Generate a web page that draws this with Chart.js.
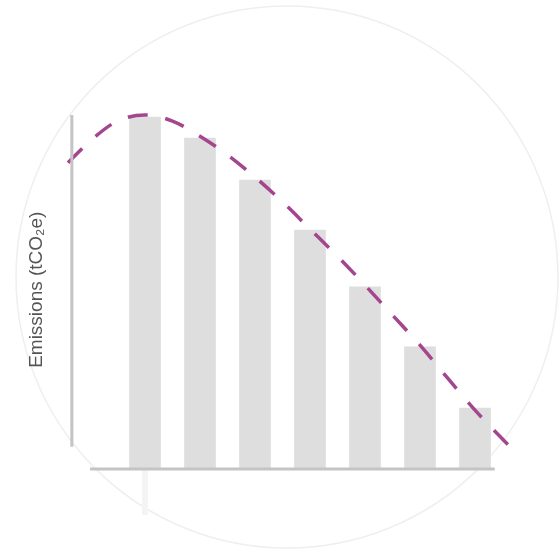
<!DOCTYPE html>
<html><head><meta charset="utf-8">
<script src="https://cdn.jsdelivr.net/npm/chart.js@4"></script>
<style>html,body{margin:0;padding:0;background:#fff;}#wrap{width:559px;height:555px;position:relative;}</style>
</head><body><div id="wrap"><canvas id="c"></canvas></div>
<script>
// Data
const categories = [1, 2, 3, 4, 5, 6, 7];
const barValues = [99.4, 93.5, 81.6, 67.4, 51.3, 34.3, 17.0];
const curveX = [-0.4, 0, 0.5, 1, 1.5, 2, 2.5, 3, 3.5, 4, 4.5, 5, 5.5, 6, 6.5, 7, 7.65];
const curveY = [86.5, 92.6, 98.3, 100, 98.3, 94, 88.7, 82.4, 75.4, 67.7, 60, 51.8, 43.3, 34.8, 25.5, 16.4, 5.8];
const yTitle = 'Emissions (tCO₂e)';

const decor = {
  id: 'decor',
  beforeDraw(chart) {
    const ctx = chart.ctx;
    ctx.save();
    ctx.strokeStyle = '#efefef';
    ctx.lineWidth = 1.5;
    ctx.beginPath();
    ctx.arc(287, 277, 271, 0, Math.PI * 2);
    ctx.stroke();
    const xs = chart.scales.x, ys = chart.scales.y;
    const px = xs.getPixelForValue(categories[0]);
    const base = ys.getPixelForValue(0);
    ctx.strokeStyle = '#f4f4f4';
    ctx.lineWidth = 6;
    ctx.beginPath();
    ctx.moveTo(px, base);
    ctx.lineTo(px, base + 47);
    ctx.stroke();
    ctx.restore();
  },
  afterDatasetsDraw(chart) {
    const ctx = chart.ctx;
    const xs = chart.scales.x, ys = chart.scales.y;
    ctx.save();
    ctx.strokeStyle = '#c4c4c4';
    ctx.lineWidth = 3;
    // y axis line
    const ax = xs.getPixelForValue(-0.33);
    ctx.beginPath();
    ctx.moveTo(ax, ys.getPixelForValue(100));
    ctx.lineTo(ax, ys.getPixelForValue(6));
    ctx.stroke();
    // x axis line
    const ay = ys.getPixelForValue(0) + 1;
    ctx.beginPath();
    ctx.moveTo(xs.getPixelForValue(0), ay);
    ctx.lineTo(xs.getPixelForValue(7.36), ay);
    ctx.stroke();
    ctx.restore();
  }
};

new Chart(document.getElementById('c'), {
  data: {
    datasets: [
      {
        type: 'line',
        order: 0,
        data: curveX.map((x, i) => ({ x: x, y: curveY[i] })),
        borderColor: '#a4468f',
        borderWidth: 3.5,
        borderDash: [20, 18],
        pointRadius: 0,
        tension: 0.4,
        cubicInterpolationMode: 'monotone',
        fill: false,
        clip: false
      },
      {
        type: 'bar',
        order: 1,
        data: categories.map((c, i) => ({ x: c, y: barValues[i] })),
        backgroundColor: '#dedede',
        borderWidth: 0,
        barThickness: 31
      }
    ]
  },
  options: {
    responsive: true,
    maintainAspectRatio: false,
    animation: false,
    layout: { padding: { left: 22, right: 45.5, top: 111.5, bottom: 87 } },
    plugins: { legend: { display: false }, tooltip: { enabled: false } },
    scales: {
      x: {
        type: 'linear',
        min: -0.45,
        max: 7.7,
        offset: false,
        grid: { offset: false },
        display: false
      },
      y: {
        min: 0,
        max: 101,
        ticks: { display: false },
        grid: { display: false },
        border: { display: false },
        afterFit(scale) { scale.width = 43.25; },
        title: {
          display: true,
          text: yTitle,
          color: '#555',
          font: { family: 'Liberation Sans', size: 19 },
          padding: { top: 3, bottom: 3 }
        }
      }
    }
  },
  plugins: [decor]
});
</script>
</body></html>
